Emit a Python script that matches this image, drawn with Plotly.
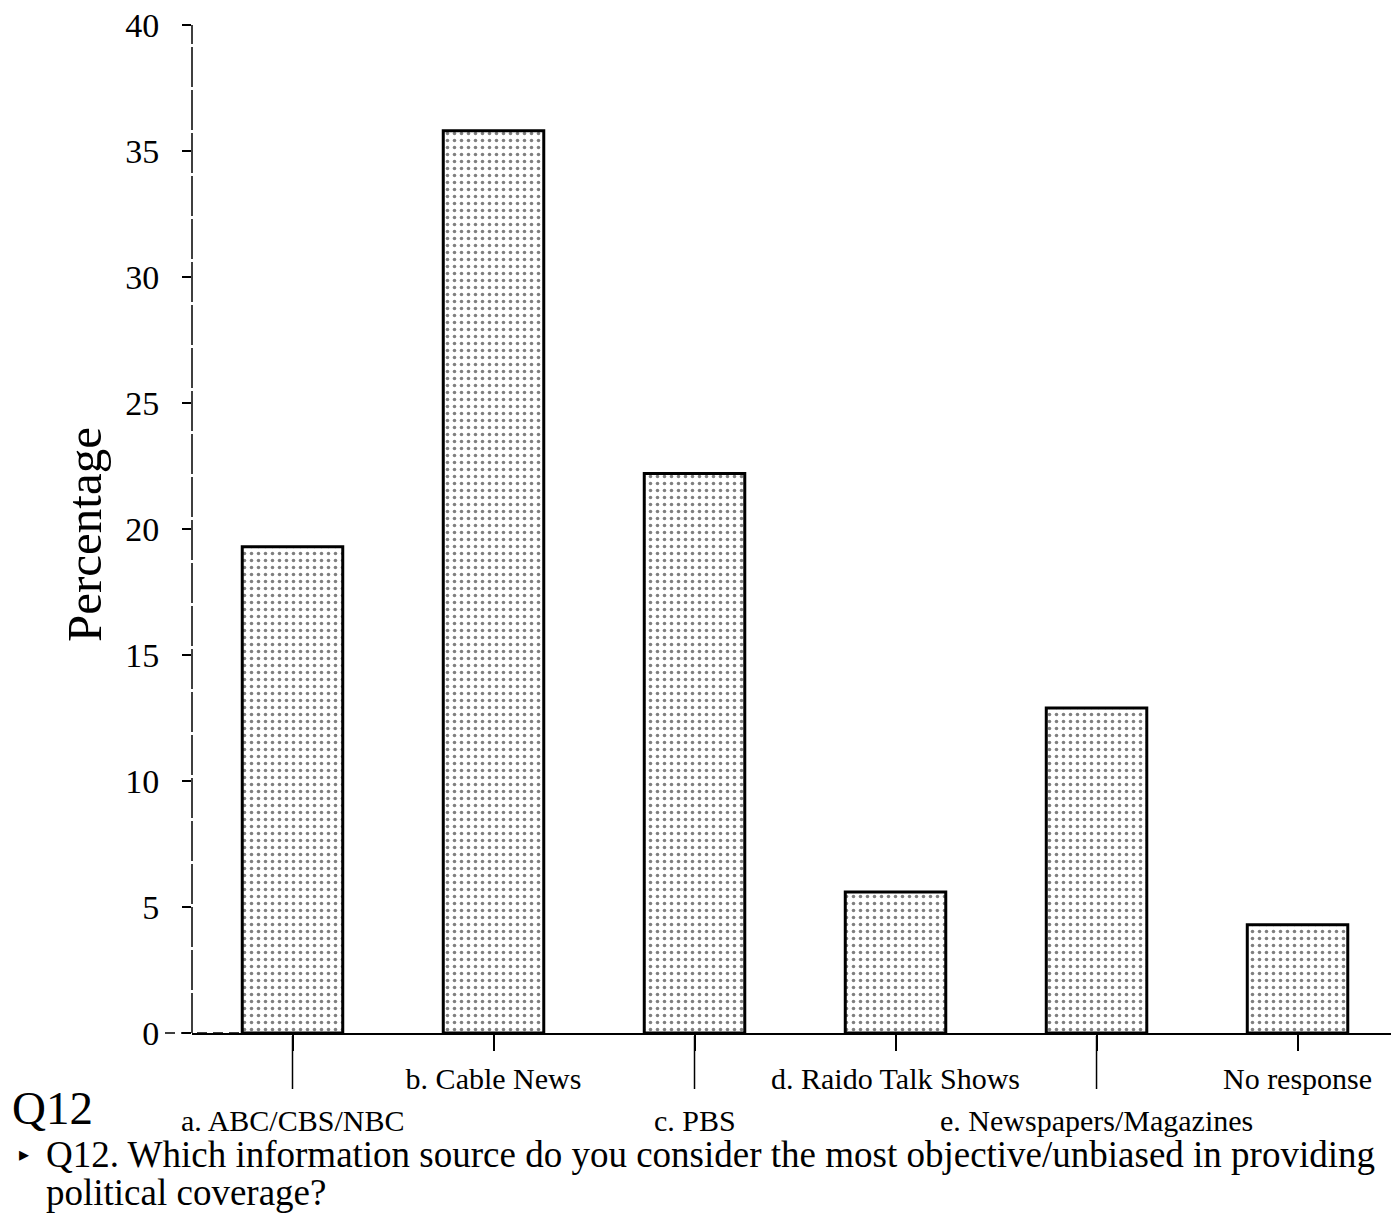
import plotly.graph_objects as go

# Survey responses (percent of respondents)
categories = ["a. ABC/CBS/NBC", "b. Cable News", "c. PBS",
              "d. Raido Talk Shows", "e. Newspapers/Magazines", "No response"]
percentages = [19.3, 35.8, 22.2, 5.6, 12.9, 4.3]
y_ticks = [0, 5, 10, 15, 20, 25, 30, 35, 40]

question_lines = [
    "Q12. Which information source do you consider the most objective/unbiased in providing",
    "political coverage?",
]

W, H = 1391, 1222
ML, MR, MT, MB = 192, 0, 25, 189
PW, PH = W - ML - MR, H - MT - MB

def px_x(px):
    return (px - ML) / PW

def px_y(py):
    return (H - MB - py) / PH

FONT = "Liberation Serif"
positions = list(range(len(categories)))

fig = go.Figure()
fig.add_trace(go.Bar(
    x=positions,
    y=percentages,
    width=0.5,
    marker=dict(
        color="white",
        line=dict(color="black", width=3),
        pattern=dict(shape=".", fgcolor="black", bgcolor="white",
                     size=7, solidity=0.2, fillmode="overlay"),
    ),
    showlegend=False,
))

# upper-row labels sit on the axis; lower-row labels are drawn as annotations
upper = positions[1::2]
lower = positions[0::2]
tick_text = [categories[i] if i in upper else "" for i in positions]

fig.update_layout(
    width=W, height=H,
    margin=dict(l=ML, r=MR, t=MT, b=MB, autoexpand=False),
    paper_bgcolor="white", plot_bgcolor="white",
    font=dict(family=FONT, color="black"),
    xaxis=dict(
        range=[-0.5, 5.465], showgrid=False, zeroline=False,
        showline=True, linecolor="black", linewidth=2,
        tickmode="array", tickvals=positions, ticktext=tick_text,
        tickangle=0, automargin=False,
        ticks="outside", ticklen=16, tickwidth=1.5, tickcolor="black",
        tickfont=dict(size=30, family=FONT, color="black"),
        ticklabelstandoff=2,
    ),
    yaxis=dict(
        range=[0, 40], showgrid=False, zeroline=False, showline=False,
        automargin=False,
        tickmode="array", tickvals=y_ticks,
        ticks="outside", ticklen=9, tickwidth=1.5, tickcolor="black",
        tickfont=dict(size=34, family=FONT, color="black"),
        ticklabelstandoff=16,
    ),
    bargap=0.5,
)

shapes = [
    # dashed vertical value axis
    dict(type="line", xref="paper", yref="paper", x0=0, x1=0, y0=0, y1=1,
         line=dict(color="black", width=1.5, dash="40px,3px")),
    # dashed stub of the baseline to the left of the value axis
    dict(type="line", xref="paper", yref="paper", x0=px_x(165), x1=px_x(243),
         y0=0, y1=0, line=dict(color="black", width=1.5, dash="10px,6px")),
]
# longer tick marks above the lower label row
for i in lower:
    shapes.append(dict(type="line", xref="x", yref="paper", x0=i, x1=i,
                       y0=px_y(1036), y1=px_y(1089),
                       line=dict(color="black", width=1.5)))
fig.update_layout(shapes=shapes)

annotations = [
    dict(text=categories[i], xref="x", yref="paper", x=i, y=px_y(1120),
         showarrow=False, xanchor="center", yanchor="middle",
         font=dict(size=30, family=FONT, color="black"))
    for i in lower
]
annotations += [
    dict(text="Percentage", xref="paper", yref="paper",
         x=px_x(84), y=px_y(535), textangle=-90, showarrow=False,
         xanchor="center", yanchor="middle",
         font=dict(size=49, family=FONT, color="black")),
    dict(text="Q12", xref="paper", yref="paper",
         x=px_x(10), y=px_y(1108), showarrow=False,
         xanchor="left", yanchor="middle",
         font=dict(size=47, family=FONT, color="black")),
    dict(text="▸", xref="paper", yref="paper",
         x=px_x(17), y=px_y(1154), showarrow=False,
         xanchor="left", yanchor="middle",
         font=dict(size=20, family="DejaVu Sans", color="black")),
    dict(text=question_lines[0], xref="paper", yref="paper",
         x=px_x(44), y=px_y(1154), showarrow=False, align="left",
         xanchor="left", yanchor="middle",
         font=dict(size=37, family=FONT, color="black")),
    dict(text=question_lines[1], xref="paper", yref="paper",
         x=px_x(44), y=px_y(1192), showarrow=False, align="left",
         xanchor="left", yanchor="middle",
         font=dict(size=37, family=FONT, color="black")),
]
fig.update_layout(annotations=annotations)

fig.write_html("out.html")
